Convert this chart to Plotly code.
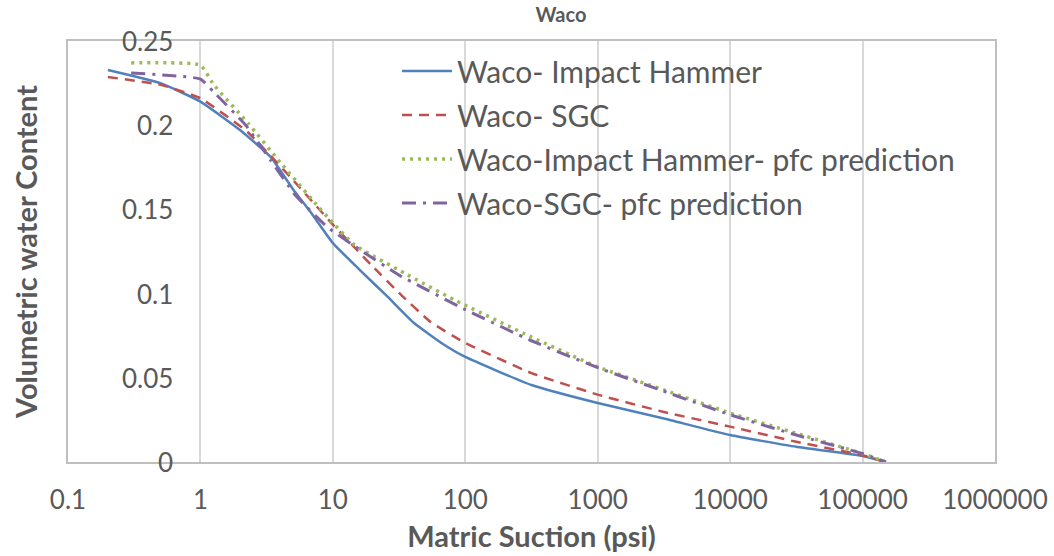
import plotly.graph_objects as go

# Matric suction (psi) and volumetric water content for each curve
suction_ih = [0.2, 0.5, 1, 2, 3.4, 5, 7, 10, 16, 26, 41, 66, 100, 316, 1000, 3162, 10000, 31623, 100000, 150000]
theta_ih = [0.2328, 0.225, 0.2140, 0.197, 0.181, 0.162, 0.147, 0.130, 0.114, 0.098, 0.0825, 0.0707, 0.0624,
            0.0457, 0.035, 0.0258, 0.016, 0.009, 0.0036, 0.0]

suction_sgc = [0.2, 0.5, 1, 2.27, 4.8, 10, 19.5, 33, 55, 100, 316, 1000, 3162, 10000, 31623, 100000, 150000]
theta_sgc = [0.2286, 0.224, 0.2160, 0.196, 0.169, 0.141, 0.117, 0.099, 0.083, 0.0707, 0.0528, 0.040, 0.0297,
             0.021, 0.012, 0.004, 0.0]

suction_ih_pfc = [0.3, 1, 1.26, 2.3, 4, 7.3, 10, 14.5, 35, 83, 316, 1000, 3162, 10000, 31623, 100000, 150000]
theta_ih_pfc = [0.237, 0.2357, 0.224, 0.201, 0.178, 0.154, 0.142, 0.129, 0.112, 0.0962, 0.0742, 0.0565,
                0.0428, 0.029, 0.017, 0.005, 0.0]

suction_sgc_pfc = [0.3, 1, 1.26, 2.2, 3.4, 5.2, 9.1, 17, 31.6, 100, 316, 1000, 3162, 10000, 31623, 100000, 150000]
theta_sgc_pfc = [0.231, 0.2274, 0.2197, 0.200, 0.179, 0.1585, 0.1395, 0.1247, 0.111, 0.0905, 0.072, 0.056,
                 0.042, 0.028, 0.016, 0.005, 0.0]

series_names = [
    "Waco- Impact Hammer",
    "Waco- SGC",
    "Waco-Impact Hammer- pfc prediction",
    "Waco-SGC- pfc prediction",
]

x_tick_vals = [0.1, 1, 10, 100, 1000, 10000, 100000, 1000000]
x_tick_text = ["0.1", "1", "10", "100", "1000", "10000", "100000", "1000000"]
y_tick_vals = [0, 0.05, 0.1, 0.15, 0.2, 0.25]
y_tick_text = ["0", "0.05", "0.1", "0.15", "0.2", "0.25"]

FONT = "Lato, 'Open Sans', sans-serif"
TEXT_GREY = "#595959"

# plot area in pixels
L, R, T, B = 68, 59, 41, 94
W, H = 1054, 556
PW = W - L - R
PH = H - T - B

styles = [
    dict(color="#4F81BD", width=2.5, dash="solid"),
    dict(color="#C0504D", width=2.5, dash="10px,7px"),
    dict(color="#9BBB59", width=3.5, dash="3px,5px"),
    dict(color="#8064A2", width=3, dash="14px,7px,3px,7px"),
]

fig = go.Figure()
data = [
    (suction_ih, theta_ih),
    (suction_sgc, theta_sgc),
    (suction_ih_pfc, theta_ih_pfc),
    (suction_sgc_pfc, theta_sgc_pfc),
]
for i, ((xs, ys), name, st) in enumerate(zip(data, series_names, styles)):
    fig.add_trace(go.Scatter(
        x=xs, y=ys, name=name, mode="lines",
        line=dict(color=st["color"], width=st["width"], dash=st["dash"],
                  shape="spline", smoothing=0.4),
        legendgroup=f"g{i}",
    ))

# y tick labels sit inside the plot area, right-aligned
for v, t in zip(y_tick_vals, y_tick_text):
    fig.add_annotation(
        x=(175 - L) / PW, xref="paper", xanchor="right",
        y=v, yref="y", yanchor="middle",
        text=t, showarrow=False,
        font=dict(size=26, color=TEXT_GREY, family=FONT),
    )

fig.update_layout(
    width=W, height=H,
    margin=dict(l=L, r=R, t=T, b=B, autoexpand=False),
    paper_bgcolor="white", plot_bgcolor="white",
    font=dict(family=FONT, color=TEXT_GREY),
    title=dict(text="<b>Waco</b>", x=561 / W, xanchor="center",
               y=1 - 15 / H, yanchor="middle",
               font=dict(size=20, color=TEXT_GREY, family=FONT)),
    showlegend=True,
    legend=dict(x=(397 - L) / PW, xanchor="left", y=1 - (45 - T) / PH, yanchor="top",
                bgcolor="rgba(0,0,0,0)", font=dict(size=30, color=TEXT_GREY, family=FONT),
                itemwidth=50, tracegroupgap=2),
    xaxis=dict(
        type="log", range=[-1, 6], automargin=False,
        tickvals=x_tick_vals, ticktext=x_tick_text,
        showgrid=True, gridcolor="#D9D9D9", gridwidth=1.5,
        showline=True, linecolor="#BFBFBF", linewidth=2, mirror=True,
        ticks="", ticklabelstandoff=14,
        tickfont=dict(size=26, color=TEXT_GREY, family=FONT),
        title=dict(text="<b>Matric Suction (psi)</b>", standoff=12,
                   font=dict(size=29, color=TEXT_GREY, family=FONT)),
        zeroline=False,
    ),
    yaxis=dict(
        range=[0, 0.25], tickvals=y_tick_vals, automargin=False,
        showticklabels=False, showgrid=False,
        showline=True, linecolor="#BFBFBF", linewidth=2, mirror=True,
        ticks="", zeroline=False,
        title=dict(text="<b>Volumetric water Content</b>", standoff=20,
                   font=dict(size=29, color=TEXT_GREY, family=FONT)),
    ),
)

fig.write_html("out.html")
